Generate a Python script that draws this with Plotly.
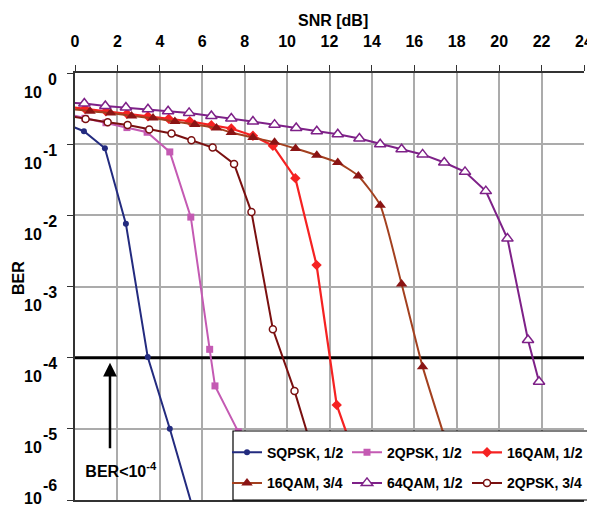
import plotly.graph_objects as go

# ---------------- data ----------------
SERIES_NAMES = ["SQPSK, 1/2", "2QPSK, 1/2", "16QAM, 1/2",
                "16QAM, 3/4", "64QAM, 1/2", "2QPSK, 3/4"]

SNR_SQPSK_12 = [-0.6, 0.42, 1.41, 2.4, 3.43, 4.47, 5.9]
BER_SQPSK_12 = [2.02e-1, 1.52e-1, 8.77e-2, 7.59e-3, 1.02e-4, 1.0e-5, 3.39e-7]

SNR_2QPSK_12 = [-0.55, 0.47, 1.46, 2.45, 3.4, 4.47, 5.46, 6.35, 6.6, 7.7, 8.7, 9.7]
BER_2QPSK_12 = [2.72e-1, 2.31e-1, 2.0e-1, 1.71e-1, 1.47e-1, 7.78e-2, 9.44e-3,
                1.31e-4, 4.01e-5, 9.06e-6, 1.39e-6, 2.14e-7]

SNR_16QAM_12 = [-0.55, 0.47, 1.46, 2.45, 3.44, 4.42, 5.41, 6.43, 7.37, 8.39,
                9.33, 10.39, 11.39, 12.34, 13.3, 14.3]
BER_16QAM_12 = [3.41e-1, 3.15e-1, 2.90e-1, 2.67e-1, 2.47e-1, 2.28e-1, 2.10e-1,
                1.85e-1, 1.66e-1, 1.31e-1, 9.51e-2, 3.33e-2, 2.0e-3, 2.17e-5,
                3.33e-6, 3.16e-7]

SNR_16QAM_34 = [-0.3, 0.71, 1.68, 2.67, 3.68, 4.71, 5.65, 6.67, 7.37, 8.39, 9.41,
                10.4, 11.4, 12.39, 13.36, 14.39, 15.4, 16.39, 17.39, 18.4]
BER_16QAM_34 = [3.13e-1, 2.90e-1, 2.75e-1, 2.49e-1, 2.33e-1, 2.08e-1, 1.89e-1,
                1.69e-1, 1.46e-1, 1.24e-1, 1.06e-1, 8.69e-2, 7.0e-2, 5.52e-2,
                3.58e-2, 1.39e-2, 1.08e-3, 7.48e-5, 8.22e-6, 8.51e-7]

SNR_64QAM_12 = [-0.6, 0.44, 1.43, 2.4, 3.44, 4.39, 5.38, 6.43, 7.37, 8.39, 9.41,
                10.43, 11.4, 12.39, 13.41, 14.39, 15.4, 16.39, 17.41, 18.39,
                19.37, 20.39, 21.36, 21.88]
BER_64QAM_12 = [3.89e-1, 3.72e-1, 3.44e-1, 3.27e-1, 3.10e-1, 2.90e-1, 2.75e-1,
                2.49e-1, 2.29e-1, 2.08e-1, 1.88e-1, 1.69e-1, 1.52e-1, 1.38e-1,
                1.20e-1, 1.0e-1, 8.49e-2, 7.18e-2, 5.52e-2, 4.08e-2, 2.19e-2,
                4.71e-3, 1.77e-4, 4.6e-5]

SNR_2QPSK_34 = [-0.55, 0.5, 1.54, 2.48, 3.5, 4.55, 5.49, 6.49, 7.5, 8.32, 9.33,
                10.35, 11.36, 12.4]
BER_2QPSK_34 = [2.55e-1, 2.26e-1, 2.03e-1, 1.86e-1, 1.61e-1, 1.41e-1, 1.135e-1,
                8.97e-2, 5.28e-2, 1.11e-2, 2.51e-4, 3.41e-5, 3.44e-6, 3.16e-7]

X_RANGE = [0, 24]
X_TICKS = list(range(0, 25, 2))
Y_TICK_EXPONENTS = [0, -1, -2, -3, -4, -5, -6]
BER_TARGET = 1e-4
ARROW_SNR = 1.65
TARGET_LABEL = "BER<10<sup>-4</sup>"

# ---------------- styling ----------------
FONT = "Liberation Sans, Arial, sans-serif"
GRID = "#ababab"
AXIS = "#333333"

styles = [
    dict(line=dict(color="#232B7F", width=2),
         marker=dict(symbol="circle", size=6, color="#232B7F")),
    dict(line=dict(color="#C45AB3", width=2),
         marker=dict(symbol="square", size=7, color="#C45AB3")),
    dict(line=dict(color="#F52222", width=2.2),
         marker=dict(symbol="diamond", size=8, color="#F52222")),
    dict(line=dict(color="#A3401F", width=2, shape="spline", smoothing=0.5),
         marker=dict(symbol="triangle-up", size=10, color="#8B1414")),
    dict(line=dict(color="#7E2188", width=2),
         marker=dict(symbol="triangle-up", size=10, color="white",
                     line=dict(color="#7E2188", width=1.5))),
    dict(line=dict(color="#7A1010", width=2),
         marker=dict(symbol="circle", size=7, color="white",
                     line=dict(color="#7A1010", width=1.5))),
]

series = [
    (SNR_SQPSK_12, BER_SQPSK_12),
    (SNR_2QPSK_12, BER_2QPSK_12),
    (SNR_16QAM_12, BER_16QAM_12),
    (SNR_16QAM_34, BER_16QAM_34),
    (SNR_64QAM_12, BER_64QAM_12),
    (SNR_2QPSK_34, BER_2QPSK_34),
]

fig = go.Figure()

# BER target line
fig.add_trace(go.Scatter(x=X_RANGE, y=[BER_TARGET, BER_TARGET], mode="lines",
                         line=dict(color="black", width=3),
                         showlegend=False, hoverinfo="skip"))

for i, ((xs, ys), name, st) in enumerate(zip(series, SERIES_NAMES, styles)):
    fig.add_trace(go.Scatter(x=xs, y=ys, mode="lines+markers", name=name,
                             line=st["line"], marker=st["marker"],
                             legend="legend" if i < 3 else "legend2"))

# The page body has an 8px margin, so the figure is shrunk by that amount and
# the plot area lands at screen pixels x 75..584, y 73..500.
BODY = 8
W, H = 595 - BODY, 507 - BODY
SL, SR, ST, SB = 75, 584, 73, 500          # plot area in screen pixels
ML, MT = SL - BODY, ST - BODY
MR, MB = BODY + W - SR, BODY + H - SB
PW, PH = SR - SL, SB - ST


def px_to_paper_x(px):
    return (px - SL) / PW


def py_to_paper_y(py):
    return (SB - py) / PH


LBL = dict(family=FONT, size=16, color="black", weight="bold")

annotations = []
# y tick labels (10 with exponent)
for e in Y_TICK_EXPONENTS:
    grid_py = ST + (-e) * PH / 6.0
    base_py = min(grid_py + 19, 498)
    exp_py = base_py - 13
    annotations.append(dict(text="10", xref="paper", yref="paper",
                            x=px_to_paper_x(44), y=py_to_paper_y(base_py),
                            xanchor="right", yanchor="middle", showarrow=False, font=LBL))
    annotations.append(dict(text=str(e), xref="paper", yref="paper",
                            x=px_to_paper_x(59), y=py_to_paper_y(exp_py),
                            xanchor="right", yanchor="middle", showarrow=False, font=LBL))

# axis titles
annotations.append(dict(text="BER", xref="paper", yref="paper",
                        x=px_to_paper_x(18), y=py_to_paper_y(278),
                        xanchor="center", yanchor="middle",
                        textangle=-90, showarrow=False, font=LBL))
annotations.append(dict(text="SNR [dB]", xref="paper", yref="paper",
                        x=px_to_paper_x(333), y=py_to_paper_y(20),
                        xanchor="center", yanchor="middle", showarrow=False, font=LBL))

# label with arrow pointing at the target line
annotations.append(dict(text=TARGET_LABEL, x=ARROW_SNR, y=-4.07, xref="x", yref="y",
                        showarrow=True, ax=0, ay=102, arrowhead=2, arrowsize=1.1,
                        arrowwidth=2.5, arrowcolor="black", standoff=0,
                        width=94, height=30, align="right", valign="bottom",
                        font=LBL))

LEG_FONT = dict(family=FONT, size=14, color="black", weight="bold")

fig.update_layout(
    width=W, height=H,
    margin=dict(l=ML, r=MR, t=MT, b=MB, pad=0, autoexpand=False),
    paper_bgcolor="white", plot_bgcolor="white",
    font=dict(family=FONT, color="black"),
    xaxis=dict(side="top", range=X_RANGE, tickvals=X_TICKS, automargin=False,
               showgrid=True, gridcolor=GRID, gridwidth=1.5, zeroline=False,
               showline=True, linecolor=AXIS, linewidth=1.5, mirror=True,
               ticks="outside", ticklen=6, tickcolor=AXIS, tickwidth=1.2,
               ticklabelstandoff=12, tickfont=LBL),
    yaxis=dict(type="log", range=[-6, 0], tickvals=[10.0 ** e for e in Y_TICK_EXPONENTS],
               automargin=False,
               showticklabels=False, showgrid=True, gridcolor=GRID, gridwidth=1.5,
               zeroline=False, showline=True, linecolor=AXIS, linewidth=1.5,
               ticks="outside", ticklen=6, tickcolor=AXIS, tickwidth=1.2),
    shapes=[dict(type="rect", xref="paper", yref="paper",
                 x0=px_to_paper_x(233), x1=px_to_paper_x(590),
                 y0=py_to_paper_y(500), y1=py_to_paper_y(431),
                 fillcolor="white", line=dict(color="black", width=1.2), layer="above")],
    legend=dict(orientation="h", x=px_to_paper_x(227), y=py_to_paper_y(452.7),
                xanchor="left", yanchor="middle", entrywidth=75,
                bgcolor="rgba(0,0,0,0)", borderwidth=0, font=LEG_FONT),
    legend2=dict(orientation="h", x=px_to_paper_x(227), y=py_to_paper_y(483.3),
                 xanchor="left", yanchor="middle", entrywidth=75,
                 bgcolor="rgba(0,0,0,0)", borderwidth=0, font=LEG_FONT),
    annotations=annotations,
    showlegend=True,
)

fig.write_html("out.html")
